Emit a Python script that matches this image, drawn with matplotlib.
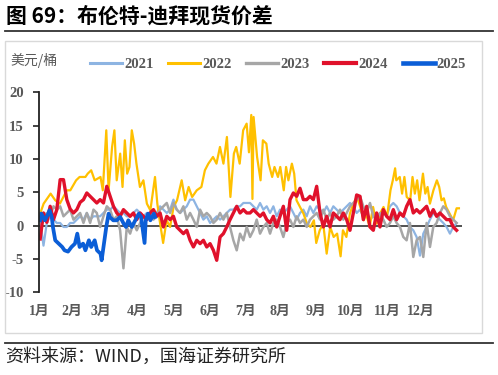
import numpy as np
import matplotlib
matplotlib.use("Agg")
import matplotlib.pyplot as plt
from matplotlib.lines import Line2D
from matplotlib.patches import Rectangle

# ---------------- data ----------------
series_names = ["2021", "2022", "2023", "2024", "2025"]
month_labels = ["1月", "2月", "3月", "4月", "5月", "6月", "7月", "8月", "9月", "10月", "11月", "12月"]
month_label_days = [0, 28, 53, 85, 116, 147, 178, 208, 239, 269, 300, 329]
y_ticks = [-10, -5, 0, 5, 10, 15, 20]

# observation dates (day of year) shared by 2021, 2023, 2024
grid_days = np.linspace(1, 360, 126)

vals_2021 = [0.9, -3.0, 0.4, 1.4, 0.9, 0.4, 0.4, -0.2, -0.2, 0.4, 0.4, 0.9, 1.4, 0.9, 1.9, 0.9,
             1.4, 1.4, 1.4, 1.9, 2.4, 2.4, 2.9, 2.4, 1.9, 1.9, 1.4, 1.4, 1.9, 2.4, 1.9, 1.4,
             1.9, 0.9, 1.4, 1.9, 2.9, 2.4, 1.9, 2.4, 3.9, 2.4, 1.9, 2.4, 2.9, 3.9, 3.9, 2.9,
             1.9, 0.9, 1.4, 0.4, 0.9, 1.4, 0.9, 1.4, 1.9, 2.4, 2.4, 2.9, 2.9, 3.4, 3.4, 3.4,
             2.9, 2.4, 3.4, 2.4, 2.9, 1.9, 2.9, 1.4, 2.4, 1.9, 2.4, 2.9, 1.9, 0.9, 1.9, 2.4,
             1.4, 2.9, 1.9, 2.9, 2.4, 1.9, 2.9, 1.9, 2.9, 2.4, 1.9, 2.4, 2.9, 3.4, 2.9, 1.9,
             2.4, 1.4, 1.9, 0.9, 1.4, 1.9, 1.4, 1.9, 1.4, 2.9, 3.4, 2.9, 1.9, 1.4, 0.9, -0.2,
             -0.7, -1.7, -4.5, -1.2, -0.2, 0.9, 1.9, 1.4, 0.9, 0.4, -0.2, -1.2, -0.2, 0.4]

vals_2023 = [1.9, 1.4, 1.9, 1.4, 2.9, 2.4, 2.9, 1.4, 1.9, 2.4, 0.9, 1.4, 1.9, 0.4, 1.9, 0.4,
             2.4, 1.9, -0.2, 1.4, 2.9, 2.4, 0.9, 1.4, -0.7, -6.4, -0.2, -1.2, 0.4, -0.7, 0.4, 1.4,
             0.9, 1.9, 0.9, 1.4, 2.4, 2.9, 3.4, 1.9, 3.4, 2.4, 1.9, 2.9, 0.9, 1.9, 0.9, -0.2,
             2.4, 1.4, 1.9, 1.4, 0.4, 0.9, 1.9, 0.9, 1.9, -0.2, -2.2, -3.7, -1.2, -2.2, -0.2, -1.7,
             -0.7, 0.9, -1.2, -0.2, 0.4, -1.2, 0.4, 0.9, -0.2, -1.7, 0.4, 0.9, -0.2, 1.4, 0.4, 0.9,
             -0.2, 0.9, 1.4, 1.9, 0.9, 2.4, 0.9, 1.9, 0.9, 1.4, 2.4, 0.9, 1.9, 2.9, 3.4, 3.9,
             4.4, 2.9, 1.9, 3.4, 1.4, 0.9, 1.9, 0.9, -0.2, 0.4, 1.4, 0.4, -0.2, -1.7, -2.2, 0.4,
             -4.7, -2.2, -1.7, -4.7, 0.4, -3.2, -0.2, 0.4, 1.9, 2.9, 2.4, 1.4, 0.9, 0.4]

vals_2024 = [-2.0, 1.9, 0.5, 2.9, 0.9, 2.4, 6.9, 6.9, 3.9, 2.5, 1.9, 2.4, 3.5, 3.9, 4.9, 4.4,
             3.9, 3.4, 3.9, 3.4, 5.9, 4.4, 2.9, 1.9, 1.4, 2.4, 1.9, 1.4, 1.9, 0.9, 1.9, 1.4,
             0.9, 1.9, 2.4, 1.4, 1.9, -0.2, 1.4, 0.9, 1.4, -0.2, -0.7, -1.2, -0.7, -2.2, -3.2, -2.2,
             -2.7, -2.2, -3.2, -2.7, -3.7, -5.2, -1.7, -1.2, -0.2, 0.9, 1.9, 2.9, 1.9, 2.4, 1.9, 1.9,
             2.4, 1.9, 1.4, 1.9, 0.9, 0.4, 1.4, -0.2, 1.4, 2.9, -0.7, 3.9, 4.9, 4.4, 5.6, 3.9,
             3.9, 4.4, 3.9, 5.9, 1.9, -0.2, 1.4, -0.2, 1.9, 1.4, 0.9, 1.9, 0.9, -0.7, 1.9, 4.6,
             4.4, 0.9, 2.9, -0.2, -0.7, 1.9, -0.2, 2.4, 1.4, 0.9, 2.4, 0.9, 1.9, 1.4, 2.9, 3.9,
             1.9, 2.4, 1.9, 2.4, 2.9, 1.4, 2.4, 1.4, 1.9, 1.4, 0.9, 0.9, -0.2, -0.7]

days_2022 = [1, 4, 10, 14, 18, 24, 27, 32, 35, 40, 42, 45, 48, 53, 55, 58, 60, 63, 65, 67,
             70, 72, 74, 76, 78, 80, 82, 84, 87, 90, 93, 96, 100, 102, 104, 107, 110, 113, 116, 119,
             123, 126, 129, 132, 136, 140, 143, 146, 150, 153, 156, 159, 162, 165, 168, 170, 173, 176, 179, 181,
             183, 184, 185, 188, 191, 193, 196, 198, 201, 203, 206, 208, 211, 213, 215, 218, 220, 222, 225, 228,
             231, 234, 237, 239, 242, 245, 248, 251, 254, 257, 260, 262, 265, 268, 271, 274, 277, 280, 282, 285,
             288, 291, 294, 297, 300, 303, 305, 307, 308, 311, 313, 315, 317, 320, 322, 324, 326, 328, 331, 333,
             335, 337, 340, 343, 345, 347, 349, 351, 354, 357, 360, 362]
vals_2022 = [1.8, 3.3, 4.8, 3.8, 3.3, 5.3, 5.3, 6.8, 7.3, 7.3, 7.8, 8.3, 6.8, 7.3, 5.3, 14.3, 5.3, 11.8, 14.3, 6.8,
             10.8, 5.8, 12.8, 7.8, 8.8, 14.3, 12.3, 9.3, 5.8, 6.8, 3.3, 2.3, 7.3, 3.3, 0.8, -2.6, 0.8, -0.2, 2.8, 3.8,
             6.8, 3.8, 5.8, 4.3, 5.3, 5.8, 8.3, 9.3, 10.3, 9.3, 11.8, 9.3, 13.3, 4.3, 10.8, 11.8, 9.3, 14.3, 15.3, 11.0,
             16.6, 4.0, 16.3, 10.3, 6.8, 12.8, 12.3, 9.3, 7.3, 8.8, 7.3, 8.8, 5.3, 8.8, 6.8, 9.3, 7.8, 3.8, 2.8, 1.8,
             0.3, -0.2, 0.8, -2.6, -0.7, 0.3, -4.2, -0.2, -1.7, -1.2, -4.6, -0.7, -1.7, 1.8, 3.3, 4.3, 2.8, 0.8, 1.8, -0.2,
             2.8, 0.3, 1.8, 2.8, 1.3, 5.3, 6.8, 8.6, 6.8, 7.3, 4.8, 7.3, 4.3, 3.8, 7.3, 4.8, 6.8, 3.8, 7.8, 4.8,
             5.8, 3.3, 5.3, 6.8, 5.8, 3.8, 4.1, 2.8, 1.8, 0.8, 2.6, 2.6]

days_2025 = [1, 2, 5, 8, 9, 11, 12, 14, 17, 20, 22, 25, 28, 31, 33, 35, 38, 40, 43, 45,
             48, 50, 53, 54, 56, 58, 60, 61, 64, 67, 70, 73, 75, 77, 80, 83, 86, 88, 91, 92,
             94, 96, 99, 100]
vals_2025 = [0.8, 1.8, 0.8, 1.8, 2.3, 1.3, -0.2, -2.2, -2.7, -3.2, -3.7, -3.9, -3.2, -2.7, -1.2, -3.2, -2.7, -3.7, -2.2, -3.2,
             -2.2, -3.7, -4.2, -5.2, -2.7, -0.2, 1.8, 1.3, 0.8, 0.8, 1.3, 0.3, -0.2, 0.8, -0.2, 0.8, 1.8, 1.3, -2.6, 0.8,
             1.8, 0.8, 1.8, 1.3]

colors = {"2021": "#8DB4E2", "2022": "#FFC000", "2023": "#A6A6A6", "2024": "#E0112B", "2025": "#0B5ED7"}
widths = {"2021": 1.6, "2022": 1.6, "2023": 1.8, "2024": 2.4, "2025": 2.7}

# ---------------- figure ----------------
W, H = 498, 375
fig = plt.figure(figsize=(W / 100, H / 100), dpi=100)
fig.patch.set_facecolor("white")

cjk = ["Noto Sans CJK SC", "DejaVu Sans"]
serif_cjk = ["Liberation Serif", "Noto Sans CJK SC"]
gray_txt = "#595959"

# title
fig.text(6 / W, 1 - 16 / H, "图 69：布伦特-迪拜现货价差", family=cjk, fontsize=15,
         fontweight="bold", color="black", va="center", ha="left")
fig.add_artist(Line2D([5 / W, 493 / W], [1 - 31 / H, 1 - 31 / H], color="#333333", lw=1.3))
# chart box
fig.add_artist(Rectangle((5 / W, 1 - 333 / H), 477 / W, 292 / H, fill=False,
                         edgecolor="#D9D9D9", lw=1.0))
# bottom rule and source
fig.add_artist(Line2D([5 / W, 493 / W], [1 - 343 / H, 1 - 343 / H], color="#333333", lw=1.3))
fig.text(5 / W, 1 - 357 / H, "资料来源：WIND，国海证券研究所", family=cjk, fontsize=13,
         color="#222222", va="center", ha="left")

# axes
ax = fig.add_axes([39 / W, (H - 292.3) / H, (462.4 - 39) / W, 200 / H])
ax.set_facecolor("none")

ax.plot(grid_days, vals_2021, color=colors["2021"], lw=widths["2021"], label="2021")
ax.plot(days_2022, vals_2022, color=colors["2022"], lw=widths["2022"], label="2022")
ax.plot(grid_days, vals_2023, color=colors["2023"], lw=widths["2023"], label="2023")
ax.plot(grid_days, vals_2024, color=colors["2024"], lw=widths["2024"], label="2024")
ax.plot(days_2025, vals_2025, color=colors["2025"], lw=widths["2025"], label="2025")
ax.axhline(0, color="#222222", lw=1.1, zorder=1.5)

ax.set_xlim(0, 365)
ax.set_ylim(-10, 20)
ax.set_yticks(y_ticks)
ax.set_yticklabels([str(t) for t in y_ticks], family="Liberation Serif", fontweight="bold",
                   fontsize=10.5, color=gray_txt)
ax.set_xticks(month_label_days)
ax.set_xticklabels(month_labels, family=serif_cjk, fontweight="bold", fontsize=10, color=gray_txt)
ax.tick_params(axis="y", direction="out", length=4, width=1.2, color="#222222", pad=7)
ax.tick_params(axis="x", length=0, pad=9)
for s in ["top", "right", "bottom"]:
    ax.spines[s].set_visible(False)
ax.spines["left"].set_color("#222222")
ax.spines["left"].set_linewidth(1.3)

# unit label
fig.text(10 / W, 1 - 60 / H, "美元/桶", family=cjk, fontsize=10, color=gray_txt,
         va="center", ha="left")

handles = [Line2D([], [], color=colors[n], lw=widths[n] + 0.6) for n in series_names]
fig.legend(handles, series_names, loc="center", bbox_to_anchor=(278 / W, 1 - 64 / H), ncol=5,
           frameon=False, handlelength=2.2, handletextpad=0.15, columnspacing=1.0,
           prop={"family": "Liberation Serif", "weight": "bold", "size": 10.5},
           labelcolor=gray_txt)

fig.savefig("out.png", dpi=100)
